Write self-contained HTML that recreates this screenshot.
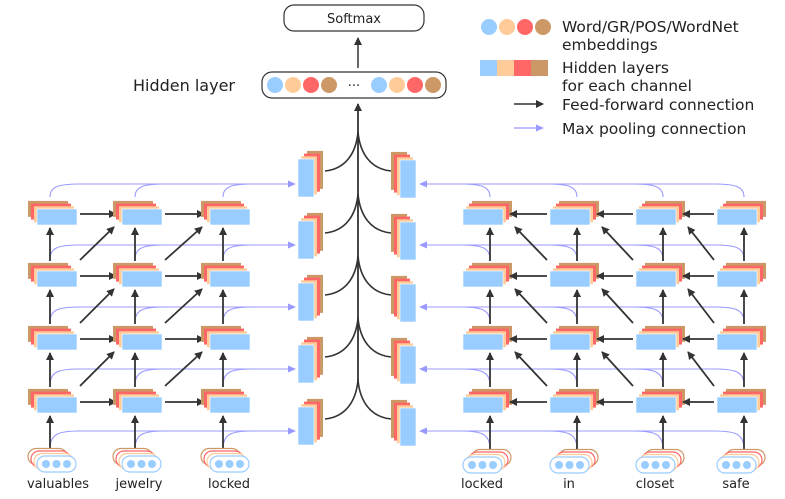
<!DOCTYPE html>
<html><head><meta charset="utf-8"><style>
html,body{margin:0;padding:0;background:#fff;}
svg{display:block;font-family:"DejaVu Sans","Liberation Sans",sans-serif;}
</style></head><body>
<svg id="s" width="785" height="499" viewBox="0 0 785 499" xmlns="http://www.w3.org/2000/svg">
<defs>
<marker id="ab" markerWidth="8" markerHeight="8" refX="7" refY="4" orient="auto" markerUnits="userSpaceOnUse"><path d="M0,0 L8,4 L0,8 Z" fill="#333"/></marker>
<marker id="ap" markerWidth="8" markerHeight="8" refX="7" refY="4" orient="auto" markerUnits="userSpaceOnUse"><path d="M0,0.5 L8,4 L0,7.5 Z" fill="#9999ff"/></marker>
</defs>
<g id="g"></g>
<rect x="284" y="5" width="140" height="26" rx="10" fill="#fff" stroke="#333" stroke-width="1.2"/>
<text x="354" y="23" font-size="13" text-anchor="middle" fill="#222">Softmax</text>
<line x1="358" y1="68" x2="358" y2="38" stroke="#333" stroke-width="1.5" marker-end="url(#ab)"/>
<rect x="262" y="72" width="184" height="26" rx="10" fill="#fff" stroke="#333" stroke-width="1.2"/>
<circle cx="275" cy="85" r="8" fill="#99ccff"/><circle cx="293" cy="85" r="8" fill="#ffcc99"/><circle cx="311" cy="85" r="8" fill="#ff6666"/><circle cx="329" cy="85" r="8" fill="#cc9966"/>
<text x="354" y="90" font-size="13" text-anchor="middle" fill="#222">···</text>
<circle cx="379" cy="85" r="8" fill="#99ccff"/><circle cx="397" cy="85" r="8" fill="#ffcc99"/><circle cx="415" cy="85" r="8" fill="#ff6666"/><circle cx="433" cy="85" r="8" fill="#cc9966"/>
<text x="133" y="91" font-size="16" fill="#222">Hidden layer</text>
<circle cx="489" cy="27" r="8" fill="#99ccff"/><circle cx="507" cy="27" r="8" fill="#ffcc99"/><circle cx="525" cy="27" r="8" fill="#ff6666"/><circle cx="543" cy="27" r="8" fill="#cc9966"/>
<text x="562" y="32" font-size="15.5" fill="#222">Word/GR/POS/WordNet</text>
<text x="562" y="50" font-size="15.5" fill="#222">embeddings</text>
<rect x="480" y="60" width="17" height="16" fill="#99ccff"/><rect x="497" y="60" width="17" height="16" fill="#ffcc99"/><rect x="514" y="60" width="17" height="16" fill="#ff6666"/><rect x="531" y="60" width="17" height="16" fill="#cc9966"/>
<text x="562" y="73" font-size="15.5" fill="#222">Hidden layers</text>
<text x="562" y="91" font-size="15.5" fill="#222">for each channel</text>
<line x1="514" y1="104" x2="543" y2="104" stroke="#333" stroke-width="1.5" marker-end="url(#ab)"/>
<text x="562" y="110" font-size="15.5" fill="#222">Feed-forward connection</text>
<line x1="514" y1="128" x2="543" y2="128" stroke="#9999ff" stroke-width="1.2" marker-end="url(#ap)"/>
<text x="562" y="134" font-size="15.5" fill="#222">Max pooling connection</text>
<g font-size="13" fill="#222" text-anchor="middle">
<text x="58" y="488">valuables</text>
<text x="139" y="488">jewelry</text>
<text x="229" y="488">locked</text>
<text x="482" y="488">locked</text>
<text x="569" y="488">in</text>
<text x="655" y="488">closet</text>
<text x="736" y="488">safe</text>
</g>
</svg>
<script>
var g=document.getElementById('g'),NS='http://www.w3.org/2000/svg';
function el(t,a){var e=document.createElementNS(NS,t);for(var k in a)e.setAttribute(k,a[k]);g.appendChild(e);return e;}
var C=['#cc9966','#ff6666','#ffcc99','#99ccff'];
function stack(x,y,w,h,dx,dy){for(var i=0;i<4;i++){var o=3-i;el('rect',{x:x+dx*o,y:y+dy*o,width:w,height:h,fill:C[i],stroke:i==3?'#fff':'none','stroke-width':0.6});}}
function oval(x,y,dx){for(var i=0;i<4;i++){var o=3-i;el('rect',{x:x+dx*o,y:y-2.5*o,width:39,height:16,rx:8,fill:'#fff',stroke:C[i],'stroke-width':1.2});}
 for(var j=0;j<3;j++)el('circle',{cx:x+9+j*10.5,cy:y+8,r:4,fill:'#99ccff'});}
function arr(x1,y1,x2,y2){el('line',{x1:x1,y1:y1,x2:x2,y2:y2,stroke:'#333','stroke-width':1.8,'marker-end':'url(#ab)'});}
function pp(d){el('path',{d:d,fill:'none',stroke:'#9999ff','stroke-width':1.1});}
var rows=[209,271,334,397],lines=[184,245,307,369,431];
var LX=[37,122,210],RX=[463,550,636,717];
for(var r=0;r<5;r++){var ly=lines[r],ny=(r<4?rows[r]-12:449);
 for(var c=0;c<3;c++){var ax=LX[c]+13;pp('M'+ax+','+ny+' C'+ax+','+(ly+2)+' '+(ax+10)+','+ly+' '+(ax+30)+','+ly);}
 el('line',{x1:LX[0]+40,y1:ly,x2:295,y2:ly,stroke:'#9999ff','stroke-width':1.1,'marker-end':'url(#ap)'});
 for(var c=0;c<4;c++){var ax=RX[c]+27;pp('M'+ax+','+ny+' C'+ax+','+(ly+2)+' '+(ax-10)+','+ly+' '+(ax-30)+','+ly);}
 el('line',{x1:RX[3]+0,y1:ly,x2:420,y2:ly,stroke:'#9999ff','stroke-width':1.1,'marker-end':'url(#ap)'});
}
for(var r=0;r<4;r++){var y=rows[r];
 for(var c=0;c<3;c++){stack(LX[c],y,40,16,-3,-2.7);
  var ax=LX[c]+13;arr(ax,(r<3?rows[r+1]-10:449),ax,y+19);
  if(c<2){arr(LX[c]+43,y+5,LX[c+1]-6,y+5);
   if(r<3)arr(LX[c]+43,rows[r+1]-11,LX[c+1]-8,y+18);}
 }}
for(var r=0;r<4;r++){var y=rows[r];
 for(var c=0;c<4;c++){stack(RX[c],y,40,16,3,-2.7);
  var ax=RX[c]+27;arr(ax,(r<3?rows[r+1]-10:457),ax,y+19);
  if(c>0){arr(RX[c]-3,y+5,RX[c-1]+47,y+5);
   if(r<3)arr(RX[c]-3,rows[r+1]-11,RX[c-1]+52,y+18);}
 }}
for(var c=0;c<3;c++)oval(LX[c],456,-3);
for(var c=0;c<4;c++)oval(RX[c],457,3);
var P=[159,221,283,345,407];
el('line',{x1:358,y1:381,x2:358,y2:104,stroke:'#333','stroke-width':1.8,'marker-end':'url(#ab)'});
for(var i=0;i<5;i++){var t=P[i];
 stack(298,t,16,38,3,-2.7);stack(400,t+1,16,38,-3,-2.7);
 el('path',{d:'M325,'+(t+12)+' C345,'+(t+10)+' 356,'+(t-5)+' 358,'+(t-27),fill:'none',stroke:'#333','stroke-width':1.6});
 el('path',{d:'M391,'+(t+12)+' C371,'+(t+10)+' 360,'+(t-5)+' 358,'+(t-27),fill:'none',stroke:'#333','stroke-width':1.6});
}
</script>
</body></html>
